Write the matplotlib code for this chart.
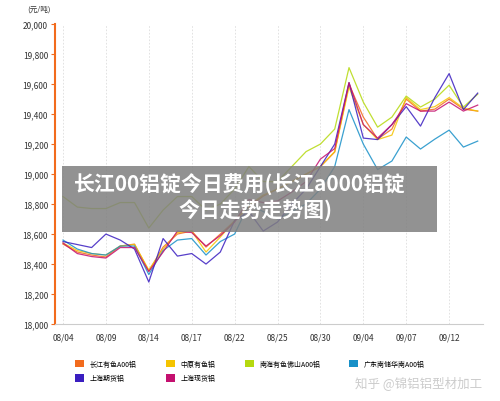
import matplotlib
matplotlib.use("Agg")
import matplotlib.pyplot as plt
from matplotlib.patches import Patch, Rectangle

plt.rcParams['font.family'] = ['Noto Sans CJK SC', 'DejaVu Sans']

tick_labels = ["08/04", "08/09", "08/14", "08/17", "08/22", "08/25", "08/30", "09/04", "09/07", "09/12"]
changjiang = [18533,18480,18460,18447,18520,18533,18353,18513,18600,18620,18513,18600,18687,18780,18853,18900,18950,19000,19050,19147,19600,19380,19233,19300,19500,19420,19433,19500,19433,19420]
zhongyuan = [18540,18490,18470,18460,18520,18530,18360,18500,18610,18620,18480,18580,18690,18790,18860,18900,18950,19000,19050,19150,19580,19330,19230,19260,19510,19430,19450,19510,19440,19420]
nanhai = [18850,18780,18770,18770,18810,18810,18640,18760,18850,18850,18760,18800,18900,19050,18950,18950,19050,19150,19200,19300,19710,19480,19313,19380,19520,19447,19500,19593,19447,19533]
guangdong = [18560,18500,18470,18460,18520,18520,18330,18490,18560,18570,18460,18550,18600,18800,18750,18700,18750,18800,18900,19050,19430,19200,19030,19087,19247,19167,19233,19293,19180,19220]
sh_futures = [18550,18530,18510,18600,18560,18500,18280,18570,18453,18470,18400,18480,18690,18750,18620,18680,18800,18900,19050,19200,19610,19240,19230,19330,19450,19320,19510,19670,19430,19540]
sh_spot = [18540,18470,18450,18440,18510,18510,18350,18480,18620,18610,18520,18590,18680,18830,18810,18820,18880,18950,19100,19170,19610,19330,19240,19330,19470,19420,19420,19480,19420,19460]

series = [
    ("长江有色A00铝", changjiang, "#f26b1d"),
    ("中原有色铝", zhongyuan, "#f5c400"),
    ("南海有色佛山A00铝", nanhai, "#b5d90f"),
    ("广东南储华南A00铝", guangdong, "#1890c8"),
    ("上海期货铝", sh_futures, "#3a1ec0"),
    ("上海现货铝", sh_spot, "#c4106f"),
]

fig = plt.figure(figsize=(5, 4.02), dpi=100)
ax = fig.add_axes([0.11, 0.1915, 0.856, 0.746])
x = list(range(len(changjiang)))
for name, vals, c in series:
    ax.plot(x, vals, color=c, lw=0.9, alpha=0.85)

ax.set_ylim(18000, 20000)
ax.set_yticks(range(18000, 20001, 200))
ax.set_yticklabels([f"{v:,}" for v in range(18000, 20001, 200)], fontsize=6, color="#333")
ax.set_xlim(-0.56, 29.37)
ax.set_xticks(range(0, 30, 3))
ax.set_xticklabels(tick_labels, fontsize=6, color="#333")
ax.tick_params(axis='x', length=0, pad=6)
ax.tick_params(axis='y', length=3, color="#f26b1d", pad=2)
ax.grid(axis='x', color="#dddddd", ls=(0, (2, 2)), lw=0.6)
for s in ["top", "right"]:
    ax.spines[s].set_visible(False)
ax.spines["left"].set_color("#f26b1d")
ax.spines["left"].set_linewidth(1.5)
ax.spines["bottom"].set_color("#cccccc")
fig.text(0.055, 0.975, "(元/吨)", fontsize=5.5, color="#333", va="center")

# Title banner
fig.patches.append(Rectangle((62/500, 1-233/402), (437-62)/500, 66/402, transform=fig.transFigure,
                             facecolor="#7f7f7f", alpha=0.85, edgecolor="none", zorder=5))
fig.text(240/500, 1-185/402, "长江00铝锭今日费用(长江a000铝锭", ha="center", va="center",
         fontsize=15, color="white", fontweight="bold", zorder=6)
fig.text(255/500, 1-211/402, "今日走势走势图)", ha="center", va="center",
         fontsize=15, color="white", fontweight="bold", zorder=6)

order = [0, 4, 1, 5, 2, 3]
handles = [Patch(facecolor=series[i][2], edgecolor="none") for i in order]
labels = [series[i][0] for i in order]
fig.legend(handles, labels, ncol=4, loc="center", bbox_to_anchor=(0.5, 1-372/402), frameon=False,
           fontsize=5, handlelength=1.3, handleheight=1.3, columnspacing=4.2, labelspacing=0.9)

fig.text(0.965, 1-383/402, "知乎 @锦铝铝型材加工", ha="right", va="center", fontsize=9, color="#cccccc")

fig.savefig("out.png", dpi=100)
